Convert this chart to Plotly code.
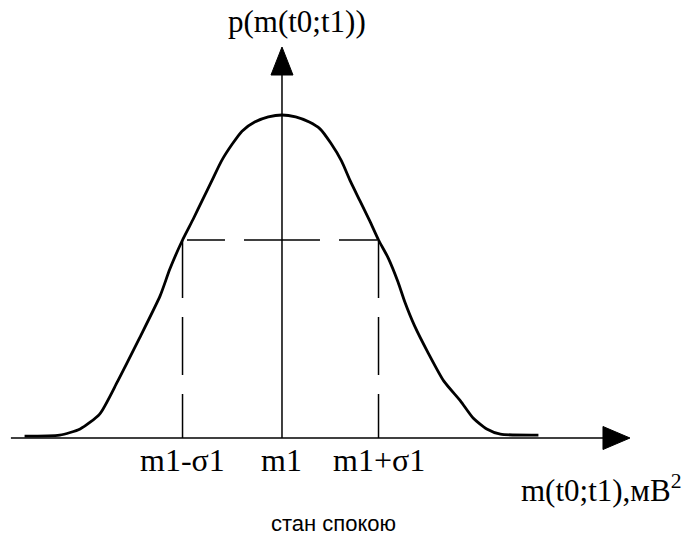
import plotly.graph_objects as go

# Density curve p(m) around the mean m1, x in units of sigma1 (m1 = 0), p normalised to the peak
m_vals = [-2.64, -2.28, -2.07, -1.87, -1.69, -1.58, -1.46, -1.25, -1.15, -1.02, -0.91, -0.82,
          -0.72, -0.62, -0.51, -0.41, -0.28, -0.14, 0.0, 0.14, 0.28, 0.39, 0.50, 0.61, 0.70,
          0.80, 0.90, 0.99, 1.09, 1.19, 1.26, 1.36, 1.50, 1.66, 1.83, 1.96, 2.10, 2.24, 2.63]
p_vals = [0.006, 0.009, 0.028, 0.074, 0.173, 0.238, 0.310, 0.440, 0.523, 0.613, 0.678, 0.734,
          0.796, 0.858, 0.910, 0.950, 0.978, 0.994, 1.0, 0.994, 0.978, 0.957, 0.913, 0.858, 0.796,
          0.734, 0.672, 0.613, 0.557, 0.483, 0.421, 0.347, 0.263, 0.176, 0.115, 0.062, 0.028,
          0.012, 0.009]

# Marked positions on the m axis and the density level at m1 +/- sigma1
tick_vals = [-1.02, 0.0, 0.99]
tick_text = ["m1-σ1", "m1", "m1+σ1"]
p_sigma = 0.613

y_title = "p(m(t0;t1))"
x_title = "m(t0;t1),мВ<sup>2</sup>"
caption = "стан спокою"

# Visible window in data units
X_RANGE = [-2.892, 4.164]
Y_RANGE = [-0.3034, 1.3560]

SERIF = "Liberation Serif, Times New Roman, serif"
SANS = "Liberation Sans, Arial, sans-serif"
INK = "black"

fig = go.Figure()

fig.add_trace(go.Scatter(
    x=m_vals, y=p_vals, mode="lines",
    line=dict(color=INK, width=2.8, shape="spline", smoothing=0.6),
    hoverinfo="skip", showlegend=False,
))

shapes = []
# x axis with arrow
shapes.append(dict(type="line", xref="x", yref="y", x0=-2.78, y0=0, x1=3.30, y1=0,
                   line=dict(color=INK, width=1.5)))
shapes.append(dict(type="path", xref="x", yref="y",
                   path="M 3.569 0 L 3.292 0.0356 L 3.292 -0.0356 Z",
                   fillcolor=INK, line=dict(color=INK, width=1)))
# y axis with arrow
shapes.append(dict(type="line", xref="x", yref="y", x0=0, y0=0, x1=0, y1=1.13,
                   line=dict(color=INK, width=1.5)))
shapes.append(dict(type="path", xref="x", yref="y",
                   path="M 0 1.2105 L -0.1128 1.1238 L 0.1128 1.1238 Z",
                   fillcolor=INK, line=dict(color=INK, width=1)))

# dashed guides at m1 +/- sigma1
for mv in (tick_vals[0], tick_vals[2]):
    shapes.append(dict(type="line", xref="x", yref="y", x0=mv, y0=p_sigma, x1=mv, y1=0,
                       line=dict(color=INK, width=1.5, dash="58px,19px")))
    shapes.append(dict(type="line", xref="x", yref="y", x0=tick_vals[1], y0=p_sigma, x1=mv, y1=p_sigma,
                       line=dict(color=INK, width=1.5, dash="38px,19px")))

annotations = []
for mv, txt in zip(tick_vals, tick_text):
    annotations.append(dict(x=mv, y=-0.068, xref="x", yref="y", text=txt, showarrow=False,
                            xanchor="center", yanchor="middle",
                            font=dict(family=SERIF, size=32, color=INK)))
annotations.append(dict(x=0.15, y=1.29, xref="x", yref="y", text=y_title, showarrow=False,
                        xanchor="center", yanchor="middle",
                        font=dict(family=SERIF, size=31, color=INK)))
annotations.append(dict(x=3.28, y=-0.155, xref="x", yref="y", text=x_title, showarrow=False,
                        xanchor="center", yanchor="middle",
                        font=dict(family=SERIF, size=31, color=INK)))
annotations.append(dict(x=0.53, y=-0.265, xref="x", yref="y", text=caption, showarrow=False,
                        xanchor="center", yanchor="middle",
                        font=dict(family=SANS, size=22, color=INK)))

fig.update_layout(
    width=688, height=536,
    margin=dict(l=0, r=0, t=0, b=0),
    paper_bgcolor="white", plot_bgcolor="white",
    xaxis=dict(range=X_RANGE, visible=False, fixedrange=True),
    yaxis=dict(range=Y_RANGE, visible=False, fixedrange=True),
    shapes=shapes, annotations=annotations,
    showlegend=False,
)

fig.write_html("out.html")
